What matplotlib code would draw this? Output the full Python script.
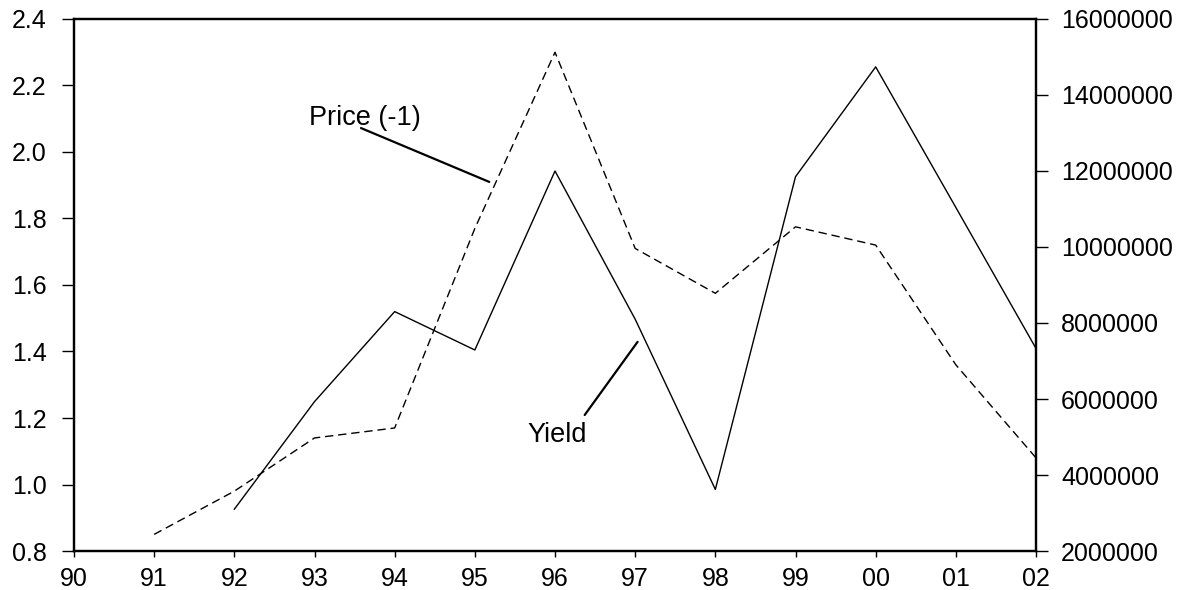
import numpy as np
import matplotlib
matplotlib.use("Agg")
import matplotlib.pyplot as plt

plt.rcParams['font.family'] = ['Liberation Sans', 'DejaVu Sans']

# years and tick labels
years = np.arange(1990, 2003)
year_labels = ['90', '91', '92', '93', '94', '95', '96', '97', '98', '99', '00', '01', '02']

# Price (-1), left axis, dashed (starts 1991)
price_years = np.arange(1991, 2003)
price = [0.85, 0.98, 1.14, 1.17, 1.77, 2.30, 1.71, 1.575, 1.775, 1.72, 1.36, 1.08]

# Yield, right axis, solid (starts 1992)
yield_years = np.arange(1992, 2003)
yld = [3.1e6, 5.93e6, 8.3e6, 7.29e6, 12.0e6, 8.1e6, 3.62e6, 11.85e6, 14.74e6, 11.04e6, 7.33e6]

fig = plt.figure(figsize=(11.82, 5.9), dpi=100)
ax = fig.add_axes([0.0626, 0.0661, 0.8139, 0.9017])
ax2 = ax.twinx()

ax.plot(price_years, price, color='black', lw=1.0, ls=(0, (6, 3.5)))
ax2.plot(yield_years, yld, color='black', lw=1.0)

ax.set_xlim(1990, 2002)
ax.set_ylim(0.8, 2.4)
ax2.set_ylim(2e6, 16e6)

ax.set_xticks(years)
ax.set_xticklabels(year_labels)
ax.set_yticks(np.arange(0.8, 2.41, 0.2))
ax.set_yticklabels(['%.1f' % v for v in np.arange(0.8, 2.41, 0.2)])
ax2.set_yticks(np.arange(2e6, 16.1e6, 2e6))
ax2.set_yticklabels(['%d' % v for v in np.arange(2e6, 16.1e6, 2e6)])

for a in (ax, ax2):
    for s in a.spines.values():
        s.set_linewidth(1.6)
ax.tick_params(axis='y', direction='out', length=8.6, width=1.0, pad=11, labelsize=18)
ax.tick_params(axis='x', direction='out', length=4.3, width=1.0, pad=7, labelsize=18)
ax2.tick_params(axis='y', direction='out', length=8.6, width=1.0, pad=9.5, labelsize=18)

# labels with leader lines
ax.text(1992.93, 2.081, 'Price (-1)', fontsize=19.5, va='baseline', ha='left')
ax.annotate('', xy=(1995.18, 1.91), xytext=(1993.58, 2.072),
            arrowprops=dict(arrowstyle='-', lw=1.6, color='black', shrinkA=0, shrinkB=0))
ax.text(1995.66, 1.129, 'Yield', fontsize=19.5, va='baseline', ha='left')
ax.annotate('', xy=(1997.03, 1.429), xytext=(1996.37, 1.209),
            arrowprops=dict(arrowstyle='-', lw=1.6, color='black', shrinkA=0, shrinkB=0))

fig.savefig('out.png', dpi=100)
